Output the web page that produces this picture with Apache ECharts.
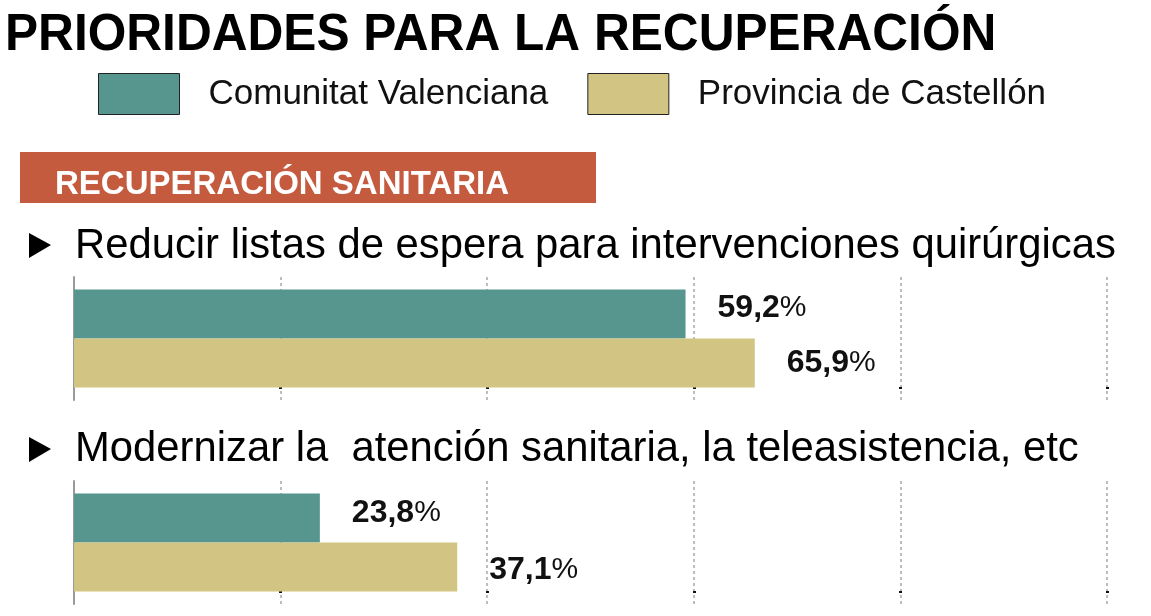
<!DOCTYPE html>
<html>
<head>
<meta charset="utf-8">
<script src="https://cdn.jsdelivr.net/npm/echarts@6/dist/echarts.min.js"></script>
<style>
  html, body { margin: 0; padding: 0; background: #fff; }
  #chart { width: 1151px; height: 616px; }
</style>
</head>
<body>
<div id="chart"></div>
<script>
// datos
var regiones = ["Comunitat Valenciana", "Provincia de Castellón"];
var prioridades = [
  "Reducir listas de espera para intervenciones quirúrgicas",
  "Modernizar la  atención sanitaria, la teleasistencia, etc"
];
var valenciana = [59.2, 23.8];
var castellon = [65.9, 37.1];
var ejeTicks = [0, 20, 40, 60, 80, 100];

var colores = ["#57968f", "#d2c583"];
var fuente = '"Liberation Sans", Arial, sans-serif';

var chartDom = document.getElementById("chart");
var myChart = echarts.init(chartDom);

// cajas de cada bloque de barras
var grids = [
  { left: 74, right: 44, top: 277, height: 123 },
  { left: 74, right: 44, top: 481, height: 123 }
];
// pequeño ajuste vertical de las etiquetas como en el original
var ajusteEtiqueta = [[-6, 0], [-5, 3]];

function etiqueta(offY) {
  return {
    show: true,
    position: "right",
    distance: 32,
    offset: [0, offY],
    formatter: function (p) {
      return "{n|" + String(p.value).replace(".", ",") + "}{p|%}";
    },
    rich: {
      n: { fontFamily: fuente, fontWeight: "bold", fontSize: 32, color: "#111" },
      p: { fontFamily: fuente, fontSize: 30, color: "#111" }
    }
  };
}

var xAxes = [];
var yAxes = [];
var series = [];
grids.forEach(function (g, i) {
  xAxes.push({
    gridIndex: i,
    type: "value",
    min: ejeTicks[0],
    max: ejeTicks[ejeTicks.length - 1],
    interval: 20,
    offset: -13,
    axisLine: { show: false },
    axisLabel: { show: false },
    axisTick: {
      show: true,
      length: 2,
      customValues: ejeTicks.slice(1),
      lineStyle: { color: "#111", width: 3 }
    },
    splitLine: {
      show: true,
      lineStyle: { color: "#a8a8a8", width: 1.5, type: [3, 3] }
    }
  });
  yAxes.push({
    gridIndex: i,
    type: "category",
    data: [prioridades[i]],
    axisLine: { show: true, lineStyle: { color: "#9a9a9a", width: 2 } },
    axisTick: { show: false },
    axisLabel: { show: false }
  });
  series.push({
    name: regiones[0],
    type: "bar",
    xAxisIndex: i,
    yAxisIndex: i,
    barWidth: 49,
    barGap: "0%",
    itemStyle: { color: colores[0] },
    label: etiqueta(ajusteEtiqueta[i][0]),
    data: [valenciana[i]]
  });
  series.push({
    name: regiones[1],
    type: "bar",
    xAxisIndex: i,
    yAxisIndex: i,
    barWidth: 49,
    barGap: "0%",
    itemStyle: { color: colores[1] },
    label: etiqueta(ajusteEtiqueta[i][1]),
    data: [castellon[i]]
  });
});

function triangulo(y) {
  return {
    type: "polygon",
    shape: { points: [[29, y - 12], [51, y], [29, y + 13]] },
    style: { fill: "#000" }
  };
}

var option = {
  animation: false,
  backgroundColor: "#fff",
  color: colores,
  legend: {
    left: 93,
    top: 68,
    data: regiones,
    icon: "rect",
    itemWidth: 81,
    itemHeight: 41,
    itemGap: 39,
    itemStyle: { borderColor: "#222", borderWidth: 1 },
    selectedMode: false,
    textStyle: {
      fontFamily: fuente,
      fontSize: 35,
      color: "#111",
      padding: [0, 0, 0, 24]
    }
  },
  grid: grids,
  xAxis: xAxes,
  yAxis: yAxes,
  series: series,
  graphic: [
    {
      type: "text",
      x: 5,
      y: 36,
      scaleX: 0.954,
      style: {
        text: "PRIORIDADES PARA LA RECUPERACIÓN",
        font: "bold 52px " + fuente,
        fill: "#000",
        verticalAlign: "middle"
      }
    },
    {
      type: "rect",
      shape: { x: 20, y: 152, width: 576, height: 51 },
      style: { fill: "#c45b3e" }
    },
    {
      type: "text",
      x: 55,
      y: 185,
      style: {
        text: "RECUPERACIÓN SANITARIA",
        font: "bold 33px " + fuente,
        fill: "#fff",
        verticalAlign: "middle"
      }
    },
    triangulo(245),
    {
      type: "text",
      x: 75,
      y: 246,
      style: {
        text: prioridades[0],
        font: "41.8px " + fuente,
        fill: "#000",
        verticalAlign: "middle"
      }
    },
    triangulo(449),
    {
      type: "text",
      x: 75,
      y: 449,
      style: {
        text: prioridades[1],
        font: "41.8px " + fuente,
        fill: "#000",
        verticalAlign: "middle"
      }
    }
  ]
};

option && myChart.setOption(option);
</script>
</body>
</html>
